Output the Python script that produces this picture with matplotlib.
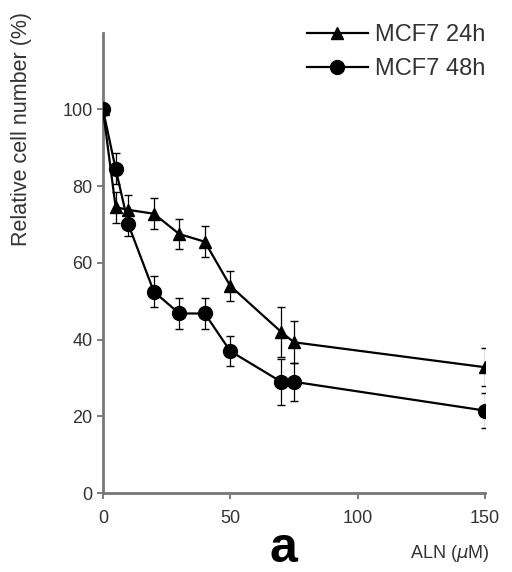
import matplotlib
matplotlib.use("Agg")
import matplotlib.pyplot as plt
from matplotlib.lines import Line2D

plt.rcParams["font.family"] = ["Liberation Sans", "DejaVu Sans"]

# ALN concentration (uM)
aln = [0, 5, 10, 20, 30, 40, 50, 70, 75, 150]

# relative cell number (%)
mcf7_24h = [100, 74.5, 73.8, 72.8, 67.5, 65.5, 54, 42, 39.3, 32.8]
mcf7_24h_err = [0, 4, 4, 4, 4, 4, 4, 6.5, 5.5, 5]
mcf7_48h = [100, 84.5, 70, 52.5, 46.8, 46.8, 37, 29, 29, 21.5]
mcf7_48h_err = [0, 4, 3, 4, 4, 4, 4, 6, 5, 4.5]

fig = plt.figure(figsize=(5.12, 5.72), dpi=100)
ax = fig.add_axes([0.201, 0.138, 0.746, 0.805])

ax.errorbar(aln, mcf7_24h, yerr=mcf7_24h_err, color="black", marker="^",
            markersize=9, linewidth=1.6, capsize=3, elinewidth=0.9, zorder=3)
ax.errorbar(aln, mcf7_48h, yerr=mcf7_48h_err, color="black", marker="o",
            markersize=10, linewidth=1.6, capsize=3, elinewidth=0.9, zorder=3)

ax.set_xlim(0, 150)
ax.set_ylim(0, 120)
ax.set_xticks([0, 50, 100, 150])
ax.set_yticks([0, 20, 40, 60, 80, 100])
ax.tick_params(labelsize=13, colors="#666666", labelcolor="#333333",
               length=4, width=1.2)
ax.tick_params(axis="x", pad=8)
for s in ["top", "right"]:
    ax.spines[s].set_visible(False)
for s in ["left", "bottom"]:
    ax.spines[s].set_color("#777777")
    ax.spines[s].set_linewidth(2)

ax.set_ylabel("Relative cell number (%)", fontsize=15.5, color="#333333")
ax.yaxis.set_label_coords(-0.185, 0.79)
fig.text(0.955, 0.033, r"ALN ($\mu$M)", fontsize=13, color="#333333",
         ha="right", va="center")
fig.text(0.553, 0.04, "a", fontsize=36, fontweight="bold", ha="center",
         va="center")

handles = [
    Line2D([0], [0], color="black", marker="^", markersize=8, linewidth=1.6),
    Line2D([0], [0], color="black", marker="o", markersize=10, linewidth=1.6),
]
fig.legend(handles, ["MCF7 24h", "MCF7 48h"], loc="upper right",
           bbox_to_anchor=(0.99, 0.995), frameon=False, fontsize=17,
           handlelength=2.6, handletextpad=0.3, labelspacing=0.5,
           labelcolor="#333333")

plt.savefig("out.png", dpi=100)
